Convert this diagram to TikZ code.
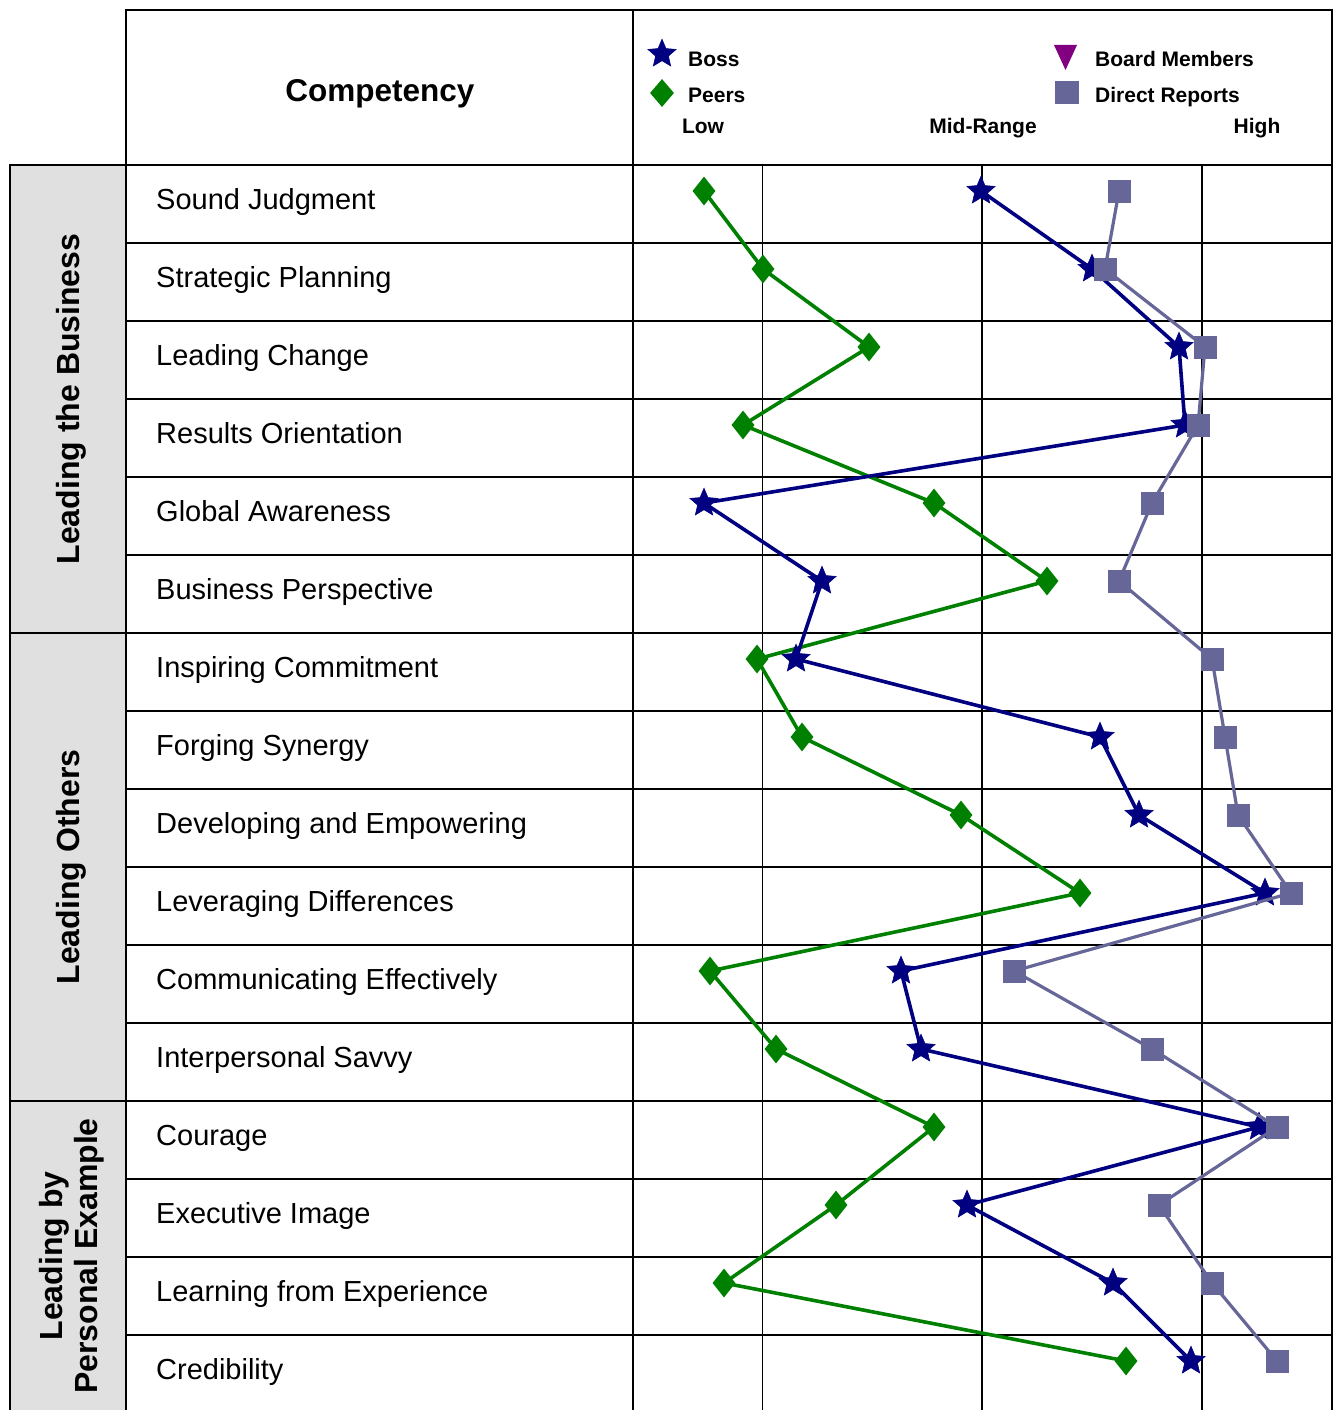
\documentclass[tikz,border=0pt]{standalone}
\usepackage{fontspec}
\setmainfont{Liberation Sans}
\usetikzlibrary{shapes.geometric}
\definecolor{peergreen}{RGB}{0,128,0}
\definecolor{bossblue}{RGB}{0,0,128}
\definecolor{drgrey}{RGB}{102,102,153}
\definecolor{bmpurple}{RGB}{128,0,128}
\definecolor{groupfill}{RGB}{224,224,224}
\begin{document}
\begin{tikzpicture}[x=1pt,y=-1pt,
  rule/.style={line width=2pt,line cap=rect},
  thinrule/.style={line width=1pt},
  rowlabel/.style={anchor=base west,inner sep=0pt,font=\fontsize{29}{34}\selectfont},
  grouplabel/.style={rotate=90,inner sep=0pt,align=center,font=\fontsize{32}{35}\selectfont\bfseries},
  legendtext/.style={anchor=base west,inner sep=0pt,font=\fontsize{21}{25}\selectfont\bfseries},
  scaletext/.style={anchor=base,inner sep=0pt,font=\fontsize{21}{25}\selectfont\bfseries},
  peerline/.style={draw=peergreen,line width=3.6pt,line join=round},
  bossline/.style={draw=bossblue,line width=3.6pt,line join=round},
  drline/.style={draw=drgrey,line width=3.2pt,line join=round},
  peermark/.style={diamond,fill=peergreen,inner sep=0pt,minimum width=23pt,minimum height=29pt},
  bossmark/.style={star,star points=5,star point ratio=2.2,fill=bossblue,draw=bossblue,line width=0.6pt,inner sep=0pt,minimum size=29.5pt},
  drmark/.style={rectangle,fill=drgrey,inner sep=0pt,minimum width=23pt,minimum height=23pt}]
\useasboundingbox (0,0) rectangle (1333,1410);
% group column background
\fill[groupfill] (10,165) rectangle (126,1420);
% grid
\foreach \k in {0,...,15} \draw[rule] (126,{165+78*\k}) -- (1332,{165+78*\k});
\foreach \yy in {165,633,1101} \draw[rule] (10,\yy) -- (126,\yy);
\draw[rule] (126,10) -- (1332,10);
\draw[rule] (10,165) -- (10,1420);
\draw[rule] (126,10) -- (126,1420);
\draw[rule] (633,10) -- (633,1420);
\draw[rule] (1332,10) -- (1332,1420);
\draw[thinrule] (762,165) -- (762,1420);
\draw[rule] (982,165) -- (982,1420);
\draw[rule] (1202,165) -- (1202,1420);
% header
\node[anchor=base,inner sep=0pt,font=\fontsize{31.5}{36}\selectfont\bfseries] (hdr) at (380,102) {Competency};
% legend
\node[bossmark] (lboss) at (662,54) {};
\node[legendtext] (tboss) at (688,67) {Boss};
\node[peermark,minimum width=24pt,minimum height=28pt] (lpeer) at (662,93) {};
\node[legendtext] (tpeer) at (688,103) {Peers};
\fill[bmpurple] (1054,45) -- (1077,45) -- (1065.5,70) -- cycle;
\node[legendtext] (tbm) at (1095,67) {Board Members};
\node[drmark,minimum width=24pt] (ldr) at (1067,92.5) {};
\node[legendtext] (tdr) at (1095,103) {Direct Reports};
\node[scaletext] (slow) at (703,133) {Low};
\node[scaletext] (smid) at (983,133) {Mid-Range};
\node[scaletext] (shigh) at (1257,133) {High};
% group labels
\node[grouplabel] (gbus) at (71,399) {Leading the Business};
\node[grouplabel] (goth) at (71,867) {Leading Others};
\node[grouplabel] (gpers) at (72,1256) {Leading by\\Personal Example};
% row labels
\foreach \t [count=\i] in {Sound Judgment,Strategic Planning,Leading Change,Results Orientation,Global Awareness,Business Perspective,Inspiring Commitment,Forging Synergy,Developing and Empowering,Leveraging Differences,Communicating Effectively,Interpersonal Savvy,Courage,Executive Image,Learning from Experience,Credibility}
  \node[rowlabel] (row\i) at (156,{165+78*(\i-1)+44}) {\t};
% data coordinates
\foreach \x [count=\i] in {704,763,869,743,934,1047,757,802,961,1080,710,776,934,836,724,1126}
  \coordinate (g\i) at (\x,{165+78*(\i-1)+26});
\foreach \x [count=\i] in {981,1092,1179,1185,704,822,796,1100,1139,1265,901,921,1259,967,1113,1191}
  \coordinate (b\i) at (\x,{165+78*(\i-1)+26});
\foreach \x [count=\i] in {1119,1105,1205,1198,1152,1119,1212,1225,1238,1291,1014,1152,1277,1159,1212,1277}
  \coordinate (d\i) at (\x,{165+78*(\i-1)+26});
% peers
\draw[peerline] (g1) \foreach \i in {2,...,16} { -- (g\i) };
\foreach \i in {1,...,16} \node[peermark] (G\i) at (g\i) {};
% boss
\draw[bossline] (b1) \foreach \i in {2,...,16} { -- (b\i) };
\foreach \i in {1,...,16} \node[bossmark] (B\i) at (b\i) {};
% direct reports
\draw[drline] (d1) \foreach \i in {2,...,16} { -- (d\i) };
\foreach \i in {1,...,16} \node[drmark] (D\i) at (d\i) {};
\end{tikzpicture}
\end{document}
